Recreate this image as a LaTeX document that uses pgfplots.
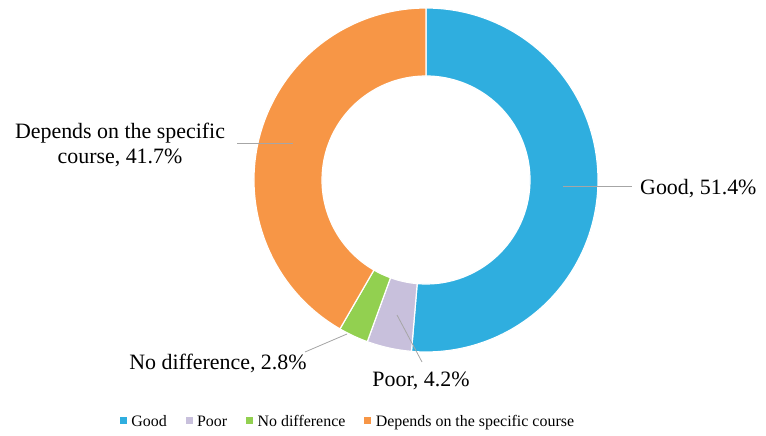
\documentclass[border=0pt]{standalone}
\usepackage{pgfplots}
\pgfplotsset{compat=1.18}
\usepackage{pgfplotstable}
\usepackage{fontspec}
\setmainfont{Liberation Serif}

\definecolor{cGood}{HTML}{2FAEDF}
\definecolor{cPoor}{HTML}{C8C0DC}
\definecolor{cNone}{HTML}{92D050}
\definecolor{cDep}{HTML}{F79646}
\definecolor{leader}{HTML}{A6A6A6}

% share of answers, in percent
\pgfplotstableread[col sep=comma]{
name,value,color
Good,51.4,cGood
Poor,4.2,cPoor
No difference,2.8,cNone
Depends on the specific course,41.7,cDep
}\shares

\begin{document}
\begin{tikzpicture}
\xdef\sumall{0}
\pgfplotstableforeachcolumnelement{value}\of\shares\as\val{%
  \pgfmathparse{\sumall+\val}\xdef\sumall{\pgfmathresult}}
\begin{axis}[
    width=766bp, height=436bp, scale only axis,
    hide axis, clip=false,
    xmin=-426, xmax=340, ymin=-256, ymax=180,
    legend columns=4,
    legend style={at={(axis cs:-78,-242)}, anchor=center, draw=none, fill=none,
      font=\fontsize{16}{19}\selectfont,
      /tikz/every even column/.append style={column sep=17bp}},
  ]
  % keep the full frame as the page
  \path (axis cs:-426,-256) rectangle (axis cs:340,180);
  % donut slices, clockwise from the top
  \xdef\angA{90}
  \pgfplotstableforeachcolumnelement{value}\of\shares\as\val{%
    \pgfplotstablegetelem{\pgfplotstablerow}{color}\of\shares
    \let\col\pgfplotsretval
    \pgfmathparse{\angA-\val/\sumall*360}\let\angB\pgfmathresult
    \edef\cmd{\noexpand\fill[\col, draw=white, line width=1.2bp]
      ([shift={(\angA:172bp)}]axis cs:0,0)
      arc[start angle=\angA, end angle=\angB, radius=172bp]
      -- ([shift={(\angB:104bp)}]axis cs:0,0)
      arc[start angle=\angB, end angle=\angA, radius=104bp] -- cycle;}%
    \cmd
    \xdef\angA{\angB}}

  \pgfplotsset{sq/.style={legend image code/.code={%
    \fill[#1] (0bp,-1bp) rectangle (6bp,5bp); \path (9bp,0);}}}
  \addlegendimage{sq=cGood}
  \addlegendentry{Good}
  \addlegendimage{sq=cPoor}
  \addlegendentry{Poor}
  \addlegendimage{sq=cNone}
  \addlegendentry{No difference}
  \addlegendimage{sq=cDep}
  \addlegendentry{Depends on the specific course}

  % data labels with leader lines
  \draw[leader, line width=0.8bp] (axis cs:137,-6) -- (axis cs:206,-6);
  \draw[leader, line width=0.8bp] (axis cs:-189,37) -- (axis cs:-133,37);
  \draw[leader, line width=0.8bp] (axis cs:-121,-172) -- (axis cs:-79,-154);
  \draw[leader, line width=0.8bp] (axis cs:-29,-135) -- (axis cs:-4,-182);
  \begin{scope}[every node/.style={inner sep=0pt, font=\fontsize{22}{25}\selectfont}]
    \node[anchor=base west] at (axis cs:214,-15) {Good, 51.4\%};
    \node[align=center] at (axis cs:-306,35) {Depends on the specific\\course, 41.7\%};
    \node[anchor=base] at (axis cs:-208,-190) {No difference, 2.8\%};
    \node[anchor=base] at (axis cs:-5,-207) {Poor, 4.2\%};
  \end{scope}
\end{axis}
\end{tikzpicture}
\end{document}
